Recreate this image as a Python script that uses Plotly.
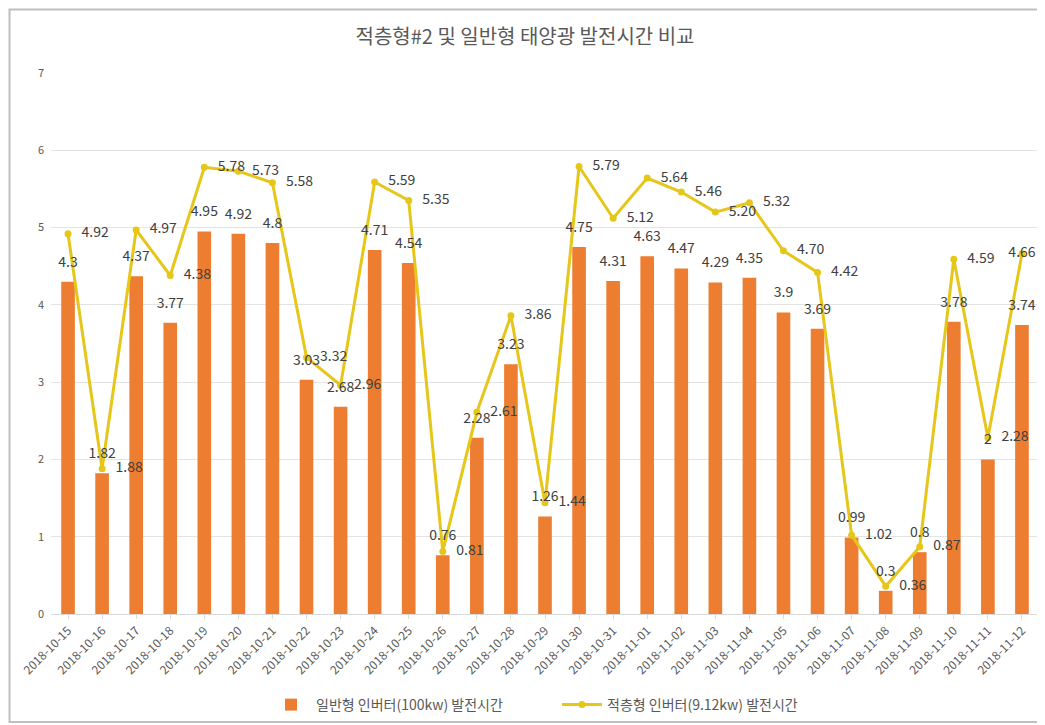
import plotly.graph_objects as go

dates = ["2018-10-15", "2018-10-16", "2018-10-17", "2018-10-18", "2018-10-19", "2018-10-20",
         "2018-10-21", "2018-10-22", "2018-10-23", "2018-10-24", "2018-10-25", "2018-10-26",
         "2018-10-27", "2018-10-28", "2018-10-29", "2018-10-30", "2018-10-31", "2018-11-01",
         "2018-11-02", "2018-11-03", "2018-11-04", "2018-11-05", "2018-11-06", "2018-11-07",
         "2018-11-08", "2018-11-09", "2018-11-10", "2018-11-11", "2018-11-12"]

general_hours = [4.3, 1.82, 4.37, 3.77, 4.95, 4.92, 4.8, 3.03, 2.68, 4.71, 4.54, 0.76,
                 2.28, 3.23, 1.26, 4.75, 4.31, 4.63, 4.47, 4.29, 4.35, 3.9, 3.69, 0.99,
                 0.3, 0.8, 3.78, 2, 3.74]

stacked_hours = [4.92, 1.88, 4.97, 4.38, 5.78, 5.73, 5.58, 3.32, 2.96, 5.59, 5.35, 0.81,
                 2.61, 3.86, 1.44, 5.79, 5.12, 5.64, 5.46, 5.20, 5.32, 4.70, 4.42, 1.02,
                 0.36, 0.87, 4.59, 2.28, 4.66]

name_general = "일반형 인버터(100kw) 발전시간"
name_stacked = "적층형 인버터(9.12kw) 발전시간"
title = "적층형#2 및 일반형 태양광 발전시간 비교"

FONT = "Noto Sans CJK KR"
W, H = 1045, 725
OFF = 8  # page body margin: figure is drawn shifted by this much
# target plot area in screenshot pixels: x 51..1039, y 73..614
L, T = 51 - OFF, 73 - OFF
R = W - (1039 - OFF)
B = H - (614 - OFF)
pw, ph = W - L - R, H - T - B
ORANGE = "#ED7D31"
GOLD = "#E6C619"
LABEL = "#404040"

fig = go.Figure()
fig.add_trace(go.Bar(
    x=dates, y=general_hours, name=name_general,
    marker=dict(color=ORANGE, line=dict(width=0)),
    width=0.4, hoverinfo="x+y",
))
fig.add_trace(go.Scatter(
    x=dates, y=stacked_hours, name=name_stacked,
    mode="lines+markers",
    line=dict(color=GOLD, width=3),
    marker=dict(color=GOLD, size=7, symbol="circle"),
))
# bar value labels (above bar tops)
fig.add_trace(go.Scatter(
    x=dates, y=general_hours, mode="markers+text", showlegend=False, hoverinfo="skip",
    marker=dict(size=17, opacity=0),
    text=[f"{v:g}" for v in general_hours], textposition="top center", cliponaxis=False,
    textfont=dict(family=FONT, size=14, color=LABEL),
))
# line value labels (right of points; last one pulled inside the chart edge)
line_label_pos = ["middle right"] * (len(dates) - 1) + ["middle center"]
fig.add_trace(go.Scatter(
    x=dates, y=stacked_hours, mode="markers+text", showlegend=False, hoverinfo="skip",
    marker=dict(size=20, opacity=0),
    text=[f"{v:.2f}" for v in stacked_hours], textposition=line_label_pos, cliponaxis=False,
    textfont=dict(family=FONT, size=14, color=LABEL),
))

def sx(x):  # screenshot x -> paper
    return (x - OFF - L) / pw

def sy(y):  # screenshot y -> paper
    return (H - B - (y - OFF)) / ph

fig.update_layout(
    width=W, height=H,
    margin=dict(l=L, r=R, t=T, b=B, autoexpand=False),
    paper_bgcolor="white", plot_bgcolor="white",
    font=dict(family=FONT, color="#595959"),
    title=dict(text=title, xref="container", x=(525 - OFF) / W, xanchor="center",
               yref="container", y=1 - (37 - OFF) / H, yanchor="middle",
               font=dict(family=FONT, size=20, color="#595959")),
    showlegend=True,
    legend=dict(orientation="h", x=sx(266), xanchor="left", y=sy(705), yanchor="middle",
                font=dict(family=FONT, size=14, color="#595959"), traceorder="normal",
                itemwidth=40, entrywidth=236, entrywidthmode="pixels"),
    xaxis=dict(type="category", tickangle=-45, automargin=False, range=[-0.5, len(dates) - 0.5],
               tickfont=dict(family=FONT, size=12, color="#595959"),
               showgrid=False, showline=True, linecolor="#D9D9D9", linewidth=1,
               ticks="outside", ticklen=4, tickcolor="#D9D9D9"),
    yaxis=dict(range=[0, 7], dtick=1, showgrid=True, gridcolor="#E3E3E3", gridwidth=1,
               zeroline=False, showline=False, ticks="", automargin=False, ticklabelstandoff=6,
               tickfont=dict(family=FONT, size=11, color="#595959")),
    shapes=[dict(type="rect", xref="paper", yref="paper",
                 x0=sx(OFF + 1.5), x1=sx(1070), y0=sy(722), y1=sy(OFF + 1.5),
                 line=dict(color="#BFBFBF", width=2), layer="below")],
)

fig.write_html("out.html")
